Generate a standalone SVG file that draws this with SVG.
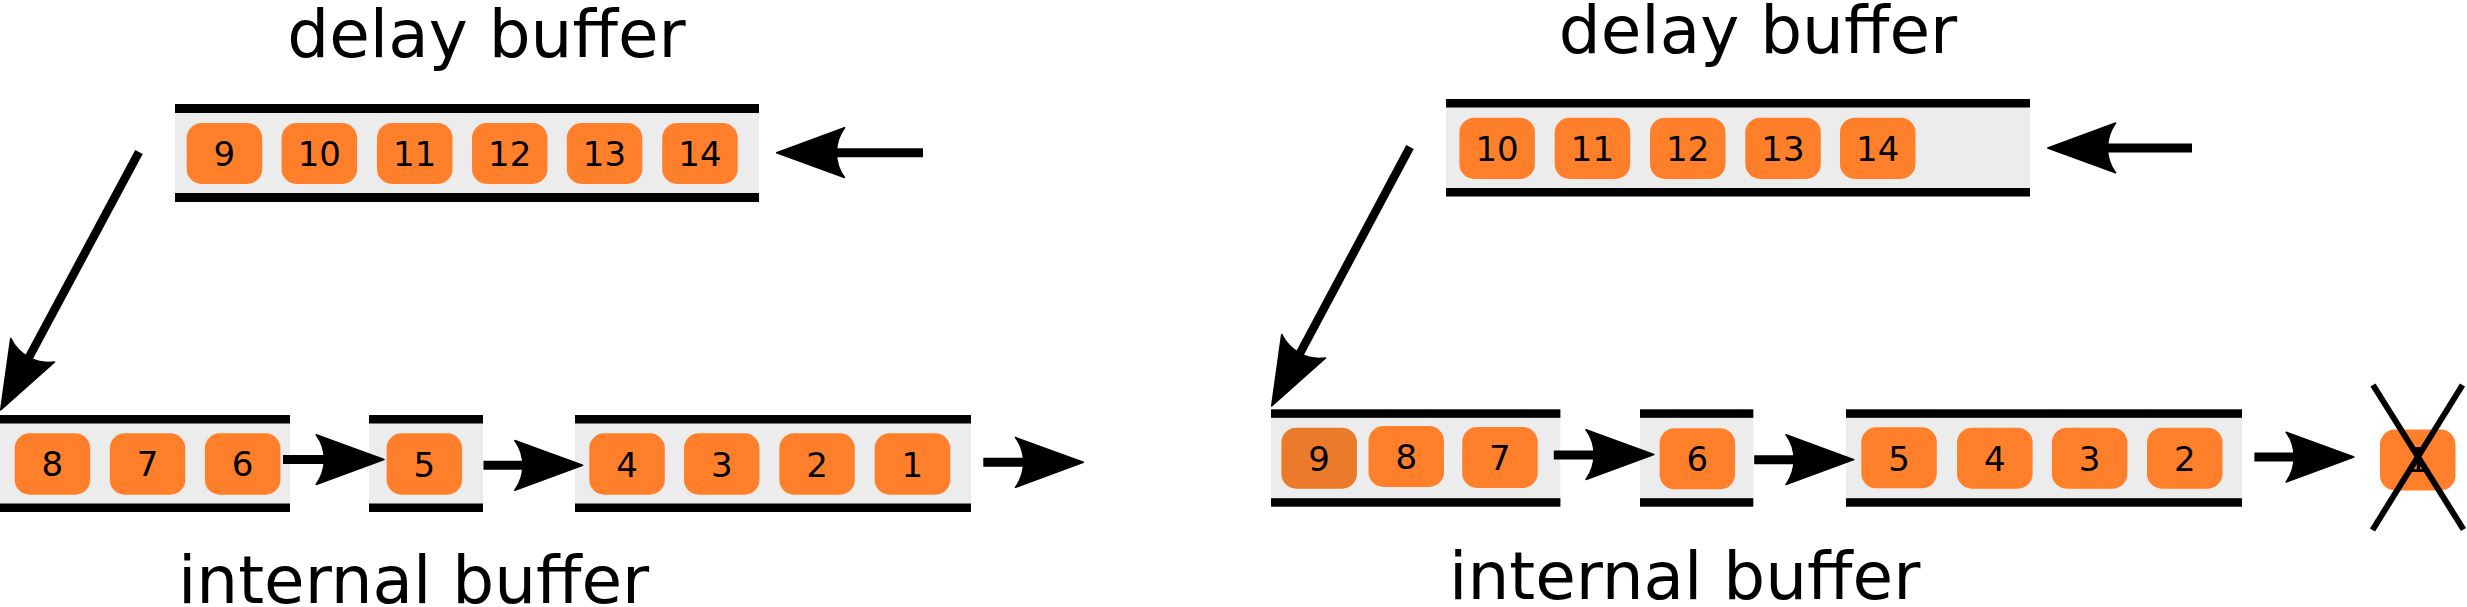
<svg xmlns="http://www.w3.org/2000/svg" xmlns:xlink="http://www.w3.org/1999/xlink" width="2467" height="607" viewBox="0 0 2467 607">
<style>
.bg{fill:#ffffff}
.bar{fill:#000000}
.gray{fill:#ececec}
.pkt rect{fill:#ff7f2a}
.pkt.dark rect{fill:#eb7a2b}
.pkt text{font-family:'DejaVu Sans',sans-serif;font-size:34px;text-anchor:middle;fill:#000}
.label{font-family:'DejaVu Sans',sans-serif;font-size:66px;text-anchor:middle;fill:#000}
.shaft{stroke:#000;stroke-width:9;fill:none}
.diag{stroke:#000;stroke-width:8.5;fill:none}
.cross{stroke:#000;stroke-width:6;fill:none}
.head{fill:#000;stroke:#000;stroke-width:1.5;stroke-linejoin:round}
</style>
<defs>
<path id="head" class="head" d="M -67.8,25 L 0,0 L -67.8,-24.8 C -56.9,-10.1 -57,10 -67.8,25 Z"/>
</defs>
<rect class="bg" x="0" y="0" width="2467" height="607"/>

<text class="label" x="486.5" y="57">delay buffer</text>
<text class="label" x="1758" y="53">delay buffer</text>
<text class="label" x="413.6" y="603">internal buffer</text>
<text class="label" x="1684.7" y="599">internal buffer</text>

<!-- left delay buffer -->
<g id="delay-left">
<rect class="gray" x="175" y="104" width="584" height="98"/>
<rect class="bar" x="175" y="104" width="584" height="9"/>
<rect class="bar" x="175" y="193" width="584" height="9"/>
</g>
<g id="dl-9" class="pkt"><rect x="186.7" y="123" width="75.5" height="61" rx="15"/><text x="224.4" y="166">9</text></g>
<g id="dl-10" class="pkt"><rect x="281.6" y="123" width="75.5" height="61" rx="15"/><text x="319.3" y="166">10</text></g>
<g id="dl-11" class="pkt"><rect x="377" y="123" width="75.5" height="61" rx="15"/><text x="414.7" y="166">11</text></g>
<g id="dl-12" class="pkt"><rect x="472" y="123" width="75.5" height="61" rx="15"/><text x="509.7" y="165.5">12</text></g>
<g id="dl-13" class="pkt"><rect x="566.8" y="123" width="75.5" height="61" rx="15"/><text x="604.5" y="165.5">13</text></g>
<g id="dl-14" class="pkt"><rect x="662.2" y="123" width="75.5" height="61" rx="15"/><text x="700" y="165.5">14</text></g>

<!-- right delay buffer -->
<g id="delay-right">
<rect class="gray" x="1446" y="99" width="584" height="97.5"/>
<rect class="bar" x="1446" y="99" width="584" height="8.5"/>
<rect class="bar" x="1446" y="188" width="584" height="8.5"/>
</g>
<g id="dr-10" class="pkt"><rect x="1459.4" y="117.7" width="75.5" height="61.3" rx="15"/><text x="1497.1" y="161">10</text></g>
<g id="dr-11" class="pkt"><rect x="1554.7" y="117.7" width="75.5" height="61.3" rx="15"/><text x="1592.4" y="161">11</text></g>
<g id="dr-12" class="pkt"><rect x="1650" y="117.7" width="75.5" height="61.3" rx="15"/><text x="1687.7" y="161">12</text></g>
<g id="dr-13" class="pkt"><rect x="1745.3" y="117.7" width="75.5" height="61.3" rx="15"/><text x="1783" y="160.5">13</text></g>
<g id="dr-14" class="pkt"><rect x="1840" y="117.7" width="75.5" height="61.3" rx="15"/><text x="1877.7" y="160.5">14</text></g>

<!-- left internal buffer -->
<g id="internal-left-a">
<rect class="gray" x="0" y="415" width="290" height="97"/>
<rect class="bar" x="0" y="415" width="290" height="8.5"/>
<rect class="bar" x="0" y="503.5" width="290" height="8.5"/>
</g>
<g id="internal-left-b">
<rect class="gray" x="369" y="415" width="114" height="97"/>
<rect class="bar" x="369" y="415" width="114" height="8.5"/>
<rect class="bar" x="369" y="503.5" width="114" height="8.5"/>
</g>
<g id="internal-left-c">
<rect class="gray" x="575" y="415" width="396" height="97"/>
<rect class="bar" x="575" y="415" width="396" height="8.5"/>
<rect class="bar" x="575" y="503.5" width="396" height="8.5"/>
</g>
<g id="il-8" class="pkt"><rect x="14.7" y="433.3" width="75.5" height="61.4" rx="15"/><text x="52.4" y="476">8</text></g>
<g id="il-7" class="pkt"><rect x="109.8" y="433.3" width="75.5" height="61.4" rx="15"/><text x="147.5" y="476">7</text></g>
<g id="il-6" class="pkt"><rect x="204.9" y="433.3" width="75.5" height="61.4" rx="15"/><text x="242.6" y="476">6</text></g>
<g id="il-5" class="pkt"><rect x="386.6" y="433.3" width="75.5" height="61.4" rx="15"/><text x="424.3" y="477">5</text></g>
<g id="il-4" class="pkt"><rect x="589.3" y="433.3" width="75.5" height="61.4" rx="15"/><text x="627" y="477">4</text></g>
<g id="il-3" class="pkt"><rect x="684" y="433.3" width="75.5" height="61.4" rx="15"/><text x="721.7" y="477">3</text></g>
<g id="il-2" class="pkt"><rect x="779.3" y="433.3" width="75.5" height="61.4" rx="15"/><text x="817" y="477">2</text></g>
<g id="il-1" class="pkt"><rect x="874.7" y="433.3" width="75.5" height="61.4" rx="15"/><text x="912.4" y="477">1</text></g>

<!-- right internal buffer -->
<g id="internal-right-a">
<rect class="gray" x="1271" y="409.3" width="289.4" height="97.4"/>
<rect class="bar" x="1271" y="409.3" width="289.4" height="8.5"/>
<rect class="bar" x="1271" y="498.2" width="289.4" height="8.5"/>
</g>
<g id="internal-right-b">
<rect class="gray" x="1640" y="409.3" width="113.3" height="97.4"/>
<rect class="bar" x="1640" y="409.3" width="113.3" height="8.5"/>
<rect class="bar" x="1640" y="498.2" width="113.3" height="8.5"/>
</g>
<g id="internal-right-c">
<rect class="gray" x="1846" y="409.3" width="396" height="97.4"/>
<rect class="bar" x="1846" y="409.3" width="396" height="8.5"/>
<rect class="bar" x="1846" y="498.2" width="396" height="8.5"/>
</g>
<g id="ir-9" class="pkt dark"><rect x="1281.4" y="427.7" width="75.5" height="61" rx="15"/><text x="1319.1" y="470.5">9</text></g>
<g id="ir-8" class="pkt"><rect x="1368.5" y="426" width="75.5" height="61" rx="15"/><text x="1406.2" y="468.5">8</text></g>
<g id="ir-7" class="pkt"><rect x="1462.2" y="427" width="75.5" height="61" rx="15"/><text x="1499.9" y="469.5">7</text></g>
<g id="ir-6" class="pkt"><rect x="1659.6" y="428.3" width="75.5" height="61" rx="15"/><text x="1697.3" y="471">6</text></g>
<g id="ir-5" class="pkt"><rect x="1861.3" y="427.3" width="75.5" height="61" rx="15"/><text x="1899" y="470.5">5</text></g>
<g id="ir-4" class="pkt"><rect x="1957.1" y="427.7" width="75.5" height="61" rx="15"/><text x="1994.8" y="470.7">4</text></g>
<g id="ir-3" class="pkt"><rect x="2051.9" y="427.7" width="75.5" height="61" rx="15"/><text x="2089.6" y="471">3</text></g>
<g id="ir-2" class="pkt"><rect x="2147" y="427.7" width="75.5" height="61" rx="15"/><text x="2184.7" y="470.7">2</text></g>
<g id="ir-1" class="pkt"><rect x="2380" y="429.5" width="75.5" height="61" rx="15"/><text x="2417.7" y="472">1</text></g>

<!-- connectors -->
<g id="connectors">
<line class="shaft" x1="923" y1="152.7" x2="836" y2="152.7"/>
<use xlink:href="#head" href="#head" transform="translate(776.7,152.7) rotate(180)"/>

<line class="shaft" x1="2192" y1="148" x2="2107" y2="148"/>
<use xlink:href="#head" href="#head" transform="translate(2047.8,148) rotate(180)"/>

<line class="diag" x1="139" y1="152" x2="26.7" y2="361.5"/>
<use xlink:href="#head" href="#head" transform="translate(0.7,410) rotate(118.2)"/>

<line class="diag" x1="1410" y1="147" x2="1297.7" y2="357.5"/>
<use xlink:href="#head" href="#head" transform="translate(1271.7,406) rotate(118.2)"/>

<line class="shaft" x1="283" y1="459.5" x2="326" y2="459.5"/>
<use xlink:href="#head" href="#head" transform="translate(384,459.5)"/>

<line class="shaft" x1="483.5" y1="465.3" x2="525" y2="465.3"/>
<use xlink:href="#head" href="#head" transform="translate(582.6,465.3)"/>

<line class="shaft" x1="983.3" y1="462.3" x2="1025" y2="462.3"/>
<use xlink:href="#head" href="#head" transform="translate(1083.3,462.3)"/>

<line class="shaft" x1="1553.8" y1="455" x2="1596" y2="455"/>
<use xlink:href="#head" href="#head" transform="translate(1653.8,454.5)"/>

<line class="shaft" x1="1754.2" y1="459.7" x2="1796" y2="459.7"/>
<use xlink:href="#head" href="#head" transform="translate(1853.8,459.6)"/>

<line class="shaft" x1="2254.4" y1="457" x2="2296" y2="457"/>
<use xlink:href="#head" href="#head" transform="translate(2353.9,457)"/>
</g>

<g id="drop-cross">
<line class="cross" x1="2373" y1="385" x2="2463.5" y2="529.5"/>
<line class="cross" x1="2462.5" y1="385" x2="2372.5" y2="530"/>
</g>
</svg>
